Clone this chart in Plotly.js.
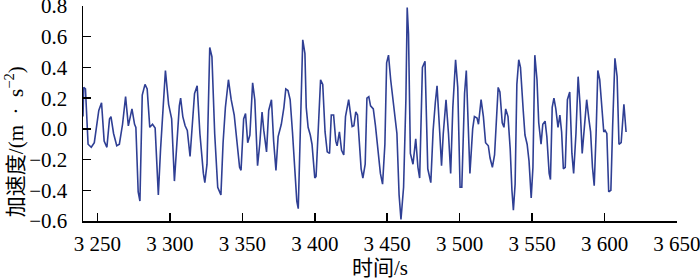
<!DOCTYPE html>
<html>
<head>
<meta charset="utf-8">
<script src="https://cdn.plot.ly/plotly-3.0.1.min.js"></script>
<style>html,body{margin:0;padding:0;background:#fff;}#chart{width:700px;height:280px;}</style>
</head>
<body>
<div id="chart"></div>
<script>
const timeSec = [3240, 3240.5, 3241.7, 3243.5, 3245.7, 3247.8, 3250.9, 3252.8, 3254.6, 3256.5, 3258.3, 3259.3, 3261.1, 3263.3, 3265.1, 3267.3, 3269.4, 3271.3, 3273.8, 3275.6, 3276.5, 3278.1, 3279.3, 3280.9, 3282.8, 3284.3, 3286.1, 3288.0, 3289.8, 3292.0, 3293.5, 3295.4, 3296.9, 3299.1, 3301.2, 3303.1, 3304.9, 3306.5, 3307.4, 3308.9, 3310.5, 3312.0, 3313.9, 3315.1, 3317.0, 3318.8, 3320.7, 3323.1, 3324.1, 3325.6, 3327.5, 3329.0, 3330.9, 3333.0, 3335.2, 3336.7, 3338.3, 3340.4, 3342.3, 3344.4, 3346.0, 3348.1, 3349.1, 3350.9, 3352.2, 3353.7, 3355.2, 3357.1, 3358.6, 3360.5, 3362.0, 3363.6, 3364.8, 3366.7, 3368.2, 3370.1, 3371.6, 3373.2, 3374.7, 3376.9, 3378.7, 3380.0, 3381.5, 3383.0, 3384.6, 3386.1, 3387.6, 3388.6, 3390.1, 3391.7, 3393.2, 3394.1, 3395.4, 3396.9, 3398.1, 3400.0, 3400.9, 3402.5, 3404.0, 3405.5, 3407.1, 3408.6, 3410.2, 3411.4, 3413.0, 3414.5, 3415.4, 3417.0, 3418.5, 3420.0, 3421.2, 3423.4, 3424.6, 3425.8, 3427.0, 3428.3, 3429.5, 3430.8, 3432.0, 3433.2, 3434.8, 3436.0, 3437.3, 3438.5, 3440.4, 3441.9, 3443.4, 3445.3, 3446.8, 3448.4, 3449.6, 3450.9, 3452.4, 3453.9, 3455.5, 3456.7, 3458.2, 3459.5, 3461.3, 3462.9, 3463.8, 3464.7, 3466.0, 3467.8, 3469.7, 3471.2, 3472.4, 3474.3, 3476.1, 3478.0, 3480.1, 3481.7, 3483.2, 3484.4, 3486.3, 3487.5, 3488.7, 3490.6, 3492.3, 3493.8, 3495.3, 3497.2, 3498.7, 3500.3, 3501.5, 3503.4, 3504.6, 3506.2, 3507.1, 3509.0, 3510.2, 3512.0, 3513.0, 3514.8, 3516.4, 3517.9, 3519.8, 3521.0, 3522.6, 3524.1, 3525.7, 3526.6, 3527.8, 3529.4, 3530.6, 3531.8, 3533.4, 3534.9, 3536.1, 3537.1, 3538.3, 3539.5, 3540.8, 3542.0, 3543.9, 3545.1, 3546.6, 3547.9, 3549.4, 3550.6, 3551.9, 3553.4, 3554.6, 3556.2, 3557.4, 3559.0, 3560.2, 3561.8, 3562.7, 3563.9, 3565.1, 3566.4, 3567.9, 3569.2, 3570.4, 3571.6, 3572.9, 3574.4, 3576.0, 3577.5, 3578.7, 3580.3, 3581.8, 3583.1, 3584.6, 3585.8, 3587.7, 3589.2, 3590.4, 3591.7, 3592.9, 3594.2, 3595.4, 3596.7, 3598.2, 3599.5, 3600.4, 3601.6, 3602.9, 3604.4, 3605.6, 3607.2, 3608.7, 3610.0, 3611.5, 3613.4, 3614.9];

const accel = [0.08, 0.27, 0.26, -0.10, -0.12, -0.09, 0.12, 0.17, -0.08, -0.12, 0.065, 0.08, -0.03, -0.11, -0.10, 0.03, 0.21, 0.02, 0.13, 0.03, 0.01, -0.41, -0.47, 0.22, 0.29, 0.26, 0.01, 0.03, 0.005, -0.43, -0.14, 0.19, 0.38, 0.16, 0.065, -0.34, -0.08, 0.15, 0.20, 0.08, 0.02, -0.01, -0.18, 0.01, 0.23, 0.28, -0.03, -0.29, -0.35, -0.23, 0.53, 0.47, -0.03, -0.38, -0.43, -0.09, 0.14, 0.32, 0.19, 0.09, -0.08, -0.25, -0.27, 0.065, 0.10, -0.09, -0.04, 0.30, 0.19, -0.24, -0.10, 0.11, -0.01, -0.15, 0.12, 0.19, -0.08, -0.27, -0.05, 0.03, 0.14, 0.26, 0.25, 0.19, -0.02, -0.29, -0.47, -0.52, 0.08, 0.58, 0.49, 0.14, 0.01, -0.04, -0.10, -0.32, -0.31, -0.02, 0.32, 0.29, -0.02, -0.15, -0.16, 0.09, 0.09, -0.08, -0.11, -0.02, -0.14, -0.17, 0.08, 0.19, 0.08, 0.015, 0.02, 0.11, 0.09, -0.08, -0.26, -0.32, -0.23, 0.20, 0.21, 0.15, 0.13, 0.02, -0.12, -0.29, -0.36, -0.10, 0.43, 0.48, 0.32, 0.19, 0.065, -0.03, -0.43, -0.59, -0.38, 0.19, 0.79, 0.62, -0.16, -0.23, -0.065, -0.25, -0.32, 0.40, 0.44, -0.26, -0.35, -0.01, 0.17, 0.28, -0.03, -0.24, -0.03, 0.19, -0.03, -0.29, 0.14, 0.45, 0.27, -0.38, -0.38, 0.23, 0.38, -0.03, -0.29, 0.0, 0.08, 0.07, 0.03, 0.19, 0.08, -0.09, -0.11, -0.19, -0.25, -0.17, 0.09, 0.27, 0.24, 0.04, 0.01, 0.13, 0.08, -0.13, -0.40, -0.53, -0.36, 0.29, 0.45, 0.40, 0.12, -0.04, -0.10, -0.21, -0.45, -0.25, 0.48, 0.32, 0.04, -0.10, 0.03, 0.05, -0.05, -0.29, -0.33, 0.14, 0.20, 0.13, 0.01, 0.09, -0.02, -0.26, -0.25, 0.19, 0.24, -0.16, -0.29, -0.03, 0.34, 0.16, -0.16, -0.03, 0.19, 0.065, -0.02, -0.25, -0.37, -0.03, 0.38, 0.32, 0.12, -0.02, -0.01, -0.03, -0.41, -0.40, 0.01, 0.46, 0.34, -0.10, -0.09, 0.16, -0.02];

const xTickVals = [3250, 3300, 3350, 3400, 3450, 3500, 3550, 3600, 3650];
const xTickText = ["3 250", "3 300", "3 350", "3 400", "3 450", "3 500", "3 550", "3 600", "3 650"];
const yTickVals = [-0.6, -0.4, -0.2, 0.0, 0.2, 0.4, 0.6, 0.8];
const yTickText = ["\u22120.6", "\u22120.4", "\u22120.2", "0.0", "0.2", "0.4", "0.6", "0.8"];
const xTitle = '时间/s';
const yTitle = '加速度/(m\u2002·\u2002s<sup>\u22122</sup>)';

const FONT = "Times New Roman, Liberation Serif, Noto Sans CJK SC, serif";

const trace = {
  x: timeSec,
  y: accel,
  type: 'scatter',
  mode: 'lines',
  line: {color: '#2f3f94', width: 1.6},
  hoverinfo: 'skip'
};

const axisCommon = {
  showline: true, linecolor: '#000', linewidth: 1.5,
  ticks: 'inside', ticklen: 8, tickwidth: 1.5, tickcolor: '#000',
  showgrid: false, zeroline: false,
  ticklabeloverflow: 'allow',
  tickfont: {family: FONT, size: 21, color: '#000'}
};

const layout = {
  width: 700, height: 280,
  margin: {l: 83, r: 23, t: 6, b: 59},
  paper_bgcolor: '#fff', plot_bgcolor: '#fff',
  showlegend: false,
  font: {family: FONT, color: '#000'},
  xaxis: Object.assign({}, axisCommon, {
    range: [3240, 3650.05],
    tickmode: 'array', tickvals: xTickVals, ticktext: xTickText,
    ticklabelstandoff: 3,
    title: {text: xTitle, font: {family: FONT, size: 21, color: '#000'}, standoff: 16}
  }),
  yaxis: Object.assign({}, axisCommon, {
    range: [-0.6, 0.8002],
    tickmode: 'array', tickvals: yTickVals, ticktext: yTickText,
    ticklabelstandoff: 10
  }),
  annotations: [{
    text: yTitle, textangle: -90,
    xref: 'paper', yref: 'paper', x: -0.115, y: 0.37,
    xanchor: 'center', yanchor: 'middle', showarrow: false,
    font: {family: FONT, size: 21, color: '#000'}
  }]
};

Plotly.newPlot('chart', [trace], layout, {displayModeBar: false, staticPlot: true});
</script>
</body>
</html>
